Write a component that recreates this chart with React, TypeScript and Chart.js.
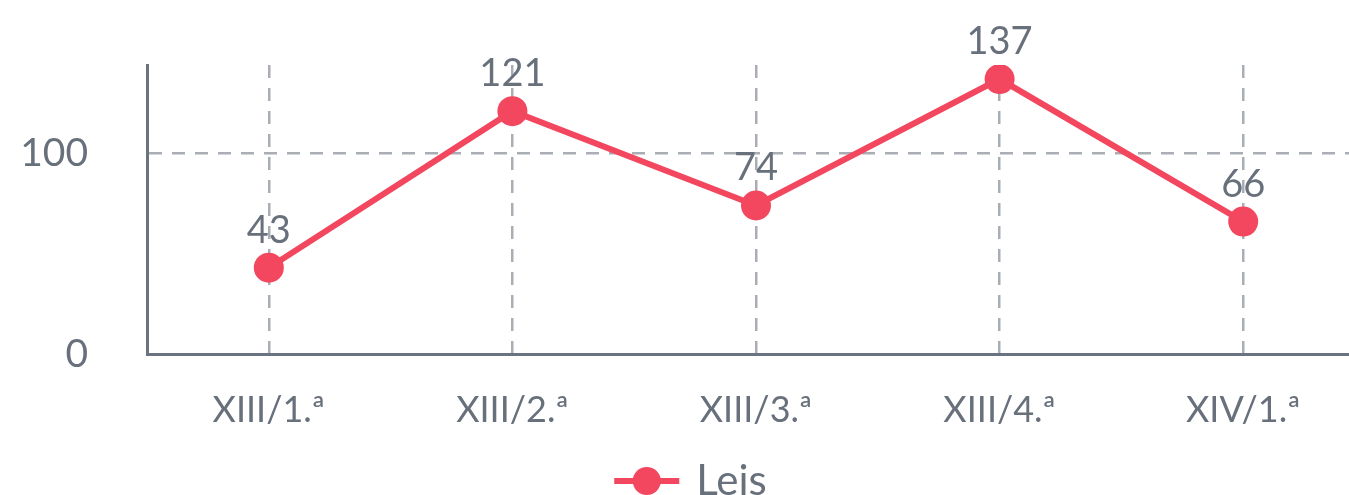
import React, { useEffect, useRef } from "react";
import { Chart, registerables } from "chart.js";

Chart.register(...registerables);

const categories: string[] = ["XIII/1.ª", "XIII/2.ª", "XIII/3.ª", "XIII/4.ª", "XIV/1.ª"];
const leisValues: number[] = [43, 121, 74, 137, 66];
const yTickValues: number[] = [0, 100];
const seriesName = "Leis";

const RED = "#f2475e";
const TEXT = "#68707c";
const AXIS = "#6b7380";
const GRID = "#a9aeb5";
const FONT = "Lato, 'Noto Sans', sans-serif";

const valueLabels = {
  id: "valueLabels",
  afterDatasetsDraw(chart: any) {
    const ctx = chart.ctx;
    ctx.save();
    ctx.font = `38px ${FONT}`;
    ctx.fillStyle = TEXT;
    ctx.textAlign = "center";
    ctx.textBaseline = "alphabetic";
    chart.data.datasets.forEach((ds: any, i: number) => {
      const meta = chart.getDatasetMeta(i);
      meta.data.forEach((pt: any, j: number) => {
        ctx.fillText(String(ds.data[j]), pt.x, pt.y - 25);
      });
    });
    ctx.restore();
  },
};

const legendMarker = {
  id: "legendMarker",
  afterDraw(chart: any) {
    const legend = chart.legend;
    if (!legend || !legend.legendHitBoxes) return;
    const ctx = chart.ctx;
    ctx.save();
    legend.legendHitBoxes.forEach((hb: any) => {
      const cy = hb.top + hb.height / 2;
      ctx.fillStyle = RED;
      ctx.fillRect(hb.left, cy - 3, 65, 6);
      ctx.beginPath();
      ctx.arc(hb.left + 32.5, cy, 14, 0, Math.PI * 2);
      ctx.fill();
    });
    ctx.restore();
  },
};

export default function App() {
  const ref = useRef<HTMLCanvasElement | null>(null);

  useEffect(() => {
    if (!ref.current) return;
    const chart = new Chart(ref.current, {
      type: "line",
      data: {
        labels: categories,
        datasets: [
          {
            label: seriesName,
            data: leisValues,
            borderColor: RED,
            backgroundColor: RED,
            borderWidth: 6,
            pointRadius: 15,
            pointHoverRadius: 15,
            pointBackgroundColor: RED,
            pointBorderColor: RED,
            pointBorderWidth: 0,
            tension: 0,
          },
        ],
      },
      options: {
        responsive: false,
        animation: false,
        layout: { padding: { top: 65, right: 13, left: 14, bottom: -17 } },
        plugins: {
          tooltip: { enabled: false },
          legend: {
            position: "bottom",
            labels: {
              boxWidth: 61,
              boxHeight: 6,
              color: TEXT,
              font: { family: FONT, size: 42 },
              padding: 4,
              generateLabels: (chart: any) =>
                Chart.defaults.plugins.legend.labels.generateLabels(chart).map((l: any) => ({
                  ...l,
                  fillStyle: "rgba(0,0,0,0)",
                  strokeStyle: "rgba(0,0,0,0)",
                  lineWidth: 0,
                })),
            },
          },
        },
        scales: {
          x: {
            offset: true,
            afterFit: (scale: any) => {
              scale.height = 102;
            },
            grid: {
              offset: false,
              color: GRID,
              lineWidth: 2.5,
              drawTicks: false,
            },
            border: { display: true, color: AXIS, width: 3, dash: [13, 10] },
            ticks: {
              color: TEXT,
              font: { family: FONT, size: 36 },
              padding: 35,
              maxRotation: 0,
            },
          },
          y: {
            min: 0,
            max: 144,
            afterBuildTicks: (scale: any) => {
              scale.ticks = yTickValues.map((v) => ({ value: v }));
            },
            afterFit: (scale: any) => {
              scale.width = 133;
            },
            grid: {
              color: (c: any) => (c.tick && c.tick.value === 0 ? "rgba(0,0,0,0)" : GRID),
              lineWidth: 2.5,
              drawTicks: true,
              tickLength: 57,
              tickColor: "rgba(0,0,0,0)",
            },
            border: { display: true, color: AXIS, width: 3, dash: [13, 10] },
            ticks: {
              color: TEXT,
              font: { family: FONT, size: 39 },
              padding: 2,
            },
          },
        },
      },
      plugins: [valueLabels, legendMarker],
    });
    return () => chart.destroy();
  }, []);

  return (
    <div style={{ position: "absolute", left: 0, top: 0, width: 1349, height: 495, overflow: "hidden", background: "#fff" }}>
      <canvas ref={ref} width={1380} height={495} style={{ display: "block" }} />
    </div>
  );
}
